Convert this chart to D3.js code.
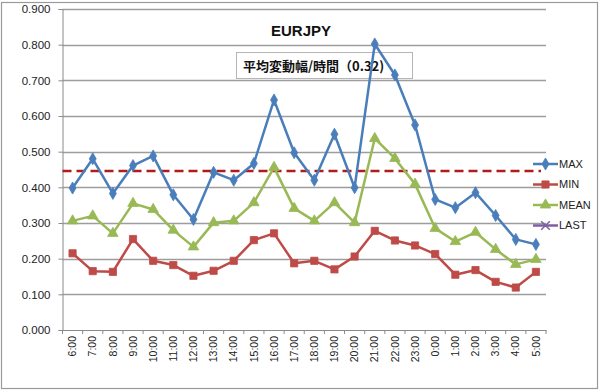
<!DOCTYPE html>
<html>
<head>
<meta charset="utf-8">
<script src="https://cdn.jsdelivr.net/npm/d3@7"></script>
<style>
  body { margin: 0; background: #fff; }
  svg { font-family: "Liberation Sans", Arial, sans-serif; }
</style>
</head>
<body>
<svg id="chart" width="600" height="392"></svg>
<script>
const hours = ['6:00','7:00','8:00','9:00','10:00','11:00','12:00','13:00','14:00','15:00','16:00','17:00',
    '18:00','19:00','20:00','21:00','22:00','23:00','0:00','1:00','2:00','3:00','4:00','5:00'];
const maxValues = [0.398,0.480,0.383,0.461,0.488,0.379,0.310,0.442,0.420,0.467,0.645,0.497,
    0.420,0.549,0.399,0.802,0.715,0.575,0.366,0.343,0.385,0.321,0.254,0.240];
const minValues = [0.215,0.165,0.163,0.255,0.194,0.182,0.152,0.166,0.194,0.252,0.271,0.187,
    0.194,0.170,0.206,0.278,0.251,0.237,0.213,0.155,0.168,0.135,0.119,0.163];
const meanValues = [0.306,0.320,0.271,0.355,0.338,0.280,0.233,0.301,0.306,0.357,0.456,0.341,
    0.306,0.357,0.301,0.537,0.481,0.409,0.285,0.248,0.274,0.226,0.184,0.198];
const lastValues = [];
const averageLine = 0.446;
const yTicks = [0,0.1,0.2,0.3,0.4,0.5,0.6,0.7,0.8,0.9];

const series = [
    { name: 'MAX', values: maxValues, color: '#4a7ebb', marker: 'diamond' },
    { name: 'MIN', values: minValues, color: '#be4b48', marker: 'square' },
    { name: 'MEAN', values: meanValues, color: '#98b954', marker: 'triangle' },
    { name: 'LAST', values: lastValues, color: '#7d60a0', marker: 'cross' }
];

const svg = d3.select('#chart');
const plot = { left: 62.5, right: 546, top: 9, bottom: 330 };

// outer chart border
svg.append('rect')
    .attr('x', 1.5).attr('y', 2.5)
    .attr('width', 596).attr('height', 386)
    .attr('fill', '#fff')
    .attr('stroke', '#9a9a9a')
    .attr('stroke-width', 1.2);

const x = d3.scaleBand().domain(hours).range([plot.left, plot.right]);
const y = d3.scaleLinear().domain([0, 0.9]).range([plot.bottom, plot.top]);

// gridlines
svg.append('g')
    .selectAll('line')
    .data(yTicks.slice(1))
    .enter().append('line')
    .attr('x1', plot.left).attr('x2', plot.right)
    .attr('y1', d => Math.round(y(d)) + 0.5)
    .attr('y2', d => Math.round(y(d)) + 0.5)
    .attr('stroke', '#9d9d9d')
    .attr('stroke-width', 1.3);

// y axis
const yAxis = svg.append('g')
    .attr('transform', `translate(${plot.left},0)`)
    .call(d3.axisLeft(y).tickValues(yTicks).tickFormat(d3.format('.3f')).tickSize(4).tickPadding(8));
yAxis.select('.domain').attr('stroke', '#8a8a8a');
yAxis.selectAll('.tick line').attr('stroke', '#8a8a8a');
yAxis.selectAll('text').attr('font-size', 11.5).attr('fill', '#222');

// x axis
const xAxis = svg.append('g')
    .attr('transform', `translate(0,${plot.bottom})`)
    .call(d3.axisBottom(x).tickSize(0).tickPadding(0));
xAxis.select('.domain').attr('stroke', '#8a8a8a');
xAxis.selectAll('.tick text')
    .attr('transform', 'rotate(-90)')
    .attr('text-anchor', 'end')
    .attr('x', -6)
    .attr('y', 0)
    .attr('dy', '0.35em')
    .attr('font-size', 10.5)
    .attr('fill', '#222');
// tick marks between categories
svg.append('g')
    .selectAll('line')
    .data(hours.concat(['end']))
    .enter().append('line')
    .attr('x1', (d, i) => plot.left + i * x.step())
    .attr('x2', (d, i) => plot.left + i * x.step())
    .attr('y1', plot.bottom)
    .attr('y2', plot.bottom + 4)
    .attr('stroke', '#8a8a8a');

// title
svg.append('text')
    .attr('x', 301).attr('y', 36)
    .attr('text-anchor', 'middle')
    .attr('font-size', 15)
    .attr('font-weight', 'bold')
    .attr('fill', '#111')
    .text('EURJPY');

// annotation box (series lines are drawn over it)
svg.append('rect')
    .attr('x', 236.5).attr('y', 52.5)
    .attr('width', 176).attr('height', 26)
    .attr('fill', '#fff')
    .attr('stroke', '#b5b5b5');
svg.append('text')
    .attr('x', 243).attr('y', 66)
    .attr('dy', '0.35em')
    .attr('font-family', '"Noto Sans CJK JP", sans-serif')
    .attr('font-size', 13)
    .attr('font-weight', 'bold')
    .attr('fill', '#111')
    .text('平均変動幅/時間（0.32)');

// average dashed line
svg.append('line')
    .attr('x1', plot.left).attr('x2', 541)
    .attr('y1', y(averageLine)).attr('y2', y(averageLine))
    .attr('stroke', '#b01c1c')
    .attr('stroke-width', 2.5)
    .attr('stroke-dasharray', '9,5');

const symbolFor = {
    diamond: d3.symbol().type(d3.symbolDiamond).size(42),
    square: d3.symbol().type(d3.symbolSquare).size(52),
    triangle: d3.symbol().type(d3.symbolTriangle).size(48),
    cross: d3.symbol().type(d3.symbolX).size(50)
};

const line = d3.line()
    .x((d, i) => x(hours[i]) + x.bandwidth() / 2)
    .y(d => y(d));

series.forEach(s => {
    const g = svg.append('g');
    g.append('path')
        .datum(s.values)
        .attr('fill', 'none')
        .attr('stroke', s.color)
        .attr('stroke-width', 2.5)
        .attr('stroke-linejoin', 'round')
        .attr('d', line);
    g.selectAll('path.pt')
        .data(s.values)
        .enter().append('path')
        .attr('class', 'pt')
        .attr('transform', (d, i) => `translate(${x(hours[i]) + x.bandwidth() / 2},${y(d)})`)
        .attr('d', symbolFor[s.marker])
        .attr('fill', s.marker === 'cross' ? 'none' : s.color)
        .attr('stroke', s.color)
        .attr('stroke-width', s.marker === 'cross' ? 1.5 : 0.8);
});

// legend
const legend = svg.append('g');
series.forEach((s, i) => {
    const ly = 164 + i * 20.5;
    legend.append('line')
        .attr('x1', 533).attr('x2', 558)
        .attr('y1', ly).attr('y2', ly)
        .attr('stroke', s.color)
        .attr('stroke-width', 2.5);
    legend.append('path')
        .attr('transform', `translate(545.5,${ly})`)
        .attr('d', symbolFor[s.marker])
        .attr('fill', s.marker === 'cross' ? 'none' : s.color)
        .attr('stroke', s.color)
        .attr('stroke-width', s.marker === 'cross' ? 1.5 : 0.8);
    legend.append('text')
        .attr('x', 559).attr('y', ly)
        .attr('dy', '0.35em')
        .attr('font-size', 11)
        .attr('fill', '#222')
        .text(s.name);
});
</script>
</body>
</html>
